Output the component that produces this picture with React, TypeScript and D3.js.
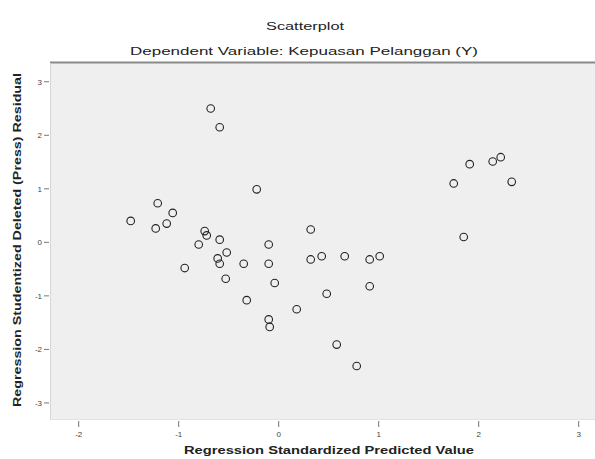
import * as d3 from "d3";
import React from "react";

// standardized predicted value / studentized deleted residual
const predicted = [
  -0.68, -0.59, -0.22, -1.48, -1.21, -1.06, -1.23, -1.12, -0.74, -0.72, -0.8,
  -0.59, -0.52, -0.61, -0.59, -0.94, -0.35, -0.53, -0.1, -0.1, -0.04, -0.32,
  -0.1, -0.09, 0.32, 0.18, 0.32, 0.43, 0.66, 0.91, 1.01, 0.91, 0.48, 0.58,
  0.78, 1.91, 2.14, 2.22, 1.75, 2.33, 1.85,
];
const residual = [
  2.5, 2.15, 0.99, 0.4, 0.73, 0.55, 0.26, 0.35, 0.21, 0.13, -0.04, 0.05, -0.19,
  -0.3, -0.4, -0.48, -0.4, -0.68, -0.04, -0.4, -0.76, -1.08, -1.44, -1.58, 0.24,
  -1.25, -0.32, -0.26, -0.26, -0.32, -0.26, -0.82, -0.96, -1.91, -2.31, 1.46,
  1.51, 1.59, 1.1, 1.13, 0.1,
];
const xTicks = [-2, -1, 0, 1, 2, 3];
const yTicks = [-3, -2, -1, 0, 1, 2, 3];

const title = "Scatterplot";
const subtitle = "Dependent Variable: Kepuasan Pelanggan (Y)";
const xTitle = "Regression Standardized Predicted Value";
const yTitle = "Regression Studentized Deleted (Press) Residual";

export default function App() {
  const W = 595;
  const H = 459;
  const left = 50;
  const right = 600;
  const top = 63;
  const bottom = 419;

  const x = d3.scaleLinear().domain([-2.287, 3.213]).range([left, right]);
  const y = d3.scaleLinear().domain([-3.3, 3.35]).range([bottom, top]);

  const points = predicted.map((p, i) => [p, residual[i]]);
  const font = "'Liberation Sans', Arial, sans-serif";

  return (
    <svg
      width={W}
      height={H}
      style={{ position: "absolute", left: 0, top: 0, background: "#fff" }}
      fontFamily={font}
    >
      <text x={305} y={30} fontSize={10} textAnchor="middle" fill="#222"
        textLength={78} lengthAdjust="spacingAndGlyphs">
        {title}
      </text>
      <text x={304} y={55} fontSize={10} textAnchor="middle" fill="#222"
        textLength={348} lengthAdjust="spacingAndGlyphs">
        {subtitle}
      </text>

      <rect x={left} y={top} width={right - left} height={bottom - top} fill="#efefef" />
      <line x1={left} x2={right} y1={top - 0.5} y2={top - 0.5} stroke="#8a8a8a" strokeWidth={2} />
      <line x1={left + 0.5} x2={left + 0.5} y1={top} y2={bottom} stroke="#d6d6d6" />
      <line x1={left} x2={right} y1={bottom + 0.5} y2={bottom + 0.5} stroke="#e2e2e2" />

      {yTicks.map((t) => (
        <g key={"y" + t} transform={`translate(0,${y(t)})`}>
          <line x1={44} x2={49} stroke="#777" />
          <text x={42} dy="0.35em" fontSize={8} textAnchor="end" fill="#444">
            {t}
          </text>
        </g>
      ))}

      {xTicks.map((t) => (
        <g key={"x" + t} transform={`translate(${x(t)},0)`}>
          <line y1={421} y2={427} stroke="#777" />
          <text y={437} fontSize={8} textAnchor="middle" fill="#444">
            {t}
          </text>
        </g>
      ))}

      <text x={329} y={454} fontSize={10} fontWeight="bold" textAnchor="middle"
        fill="#222" textLength={290} lengthAdjust="spacingAndGlyphs">
        {xTitle}
      </text>
      <text transform={`translate(21,240) rotate(-90)`} fontSize={10}
        fontWeight="bold" textAnchor="middle" fill="#222"
        textLength={334} lengthAdjust="spacingAndGlyphs">
        {yTitle}
      </text>

      {points.map((d, i) => (
        <circle key={i} cx={x(d[0])} cy={y(d[1])} r={3.8} fill="none"
          stroke="#222" strokeWidth={1.1} />
      ))}
    </svg>
  );
}
